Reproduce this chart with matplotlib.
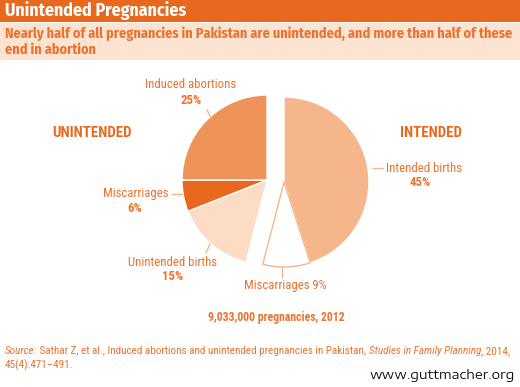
import matplotlib
matplotlib.use("Agg")
import matplotlib.pyplot as plt
from matplotlib.patches import Wedge, Rectangle

# data
groups = ["UNINTENDED", "INTENDED"]
slice_names = ["Intended births", "Miscarriages", "Unintended births", "Miscarriages", "Induced abortions"]
slice_values = [45, 9, 15, 6, 25]
slice_group = [1, 1, 0, 0, 0]
total_label = "9,033,000 pregnancies, 2012"

title = "Unintended Pregnancies"
subtitle = ["Nearly half of all pregnancies in Pakistan are unintended, and more than half of these",
            "end in abortion"]
source_parts = [("Source:", "italic"),
                (" Sathar Z, et al., Induced abortions and unintended pregnancies in Pakistan, ", "normal"),
                ("Studies in Family Planning", "italic"),
                (", 2014,", "normal")]
source_line2 = "45(4):471\u2013491."
site = "www.guttmacher.org"

ORANGE = "#E8691E"
TXT = "#EA7330"
colors = ["#F4B68A", "#FFFFFF", "#FCDCC4", "#E8691E", "#EF9458"]
edges = ["white", "#F4B68A", "white", "white", "white"]

HEAD = ["Fira Sans Condensed", "DejaVu Sans"]
COND = ["Roboto Condensed", "DejaVu Sans"]
WIDE = ["Encode Sans Expanded", "DejaVu Sans"]

fig = plt.figure(figsize=(5.2, 3.87), dpi=100)
ax = fig.add_axes([0, 0, 1, 1])
ax.set_xlim(0, 520)
ax.set_ylim(387, 0)
ax.set_aspect("equal")
ax.axis("off")
fig.canvas.draw()
rend = fig.canvas.get_renderer()


def width_px(t):
    return t.get_window_extent(renderer=rend).width


def fit(t, target):
    # scale font size so the text spans the target width (pixels)
    t.set_fontsize(t.get_fontsize() * target / width_px(t))
    return t


# header
ax.add_patch(Rectangle((0, 0), 520, 21.5, color=ORANGE, lw=0))
ax.add_patch(Rectangle((0, 22.5), 520, 37, color="#FDE3D2", lw=0))
fit(ax.text(5, 11, title, color="white", fontsize=12, fontweight="bold",
            family=HEAD, va="center", ha="left"), 182)
s1 = fit(ax.text(5, 33.5, subtitle[0], color=TXT, fontsize=10, fontweight="bold",
                 family=HEAD, va="center", ha="left"), 508)
ax.text(5, 49.5, subtitle[1], color=TXT, fontsize=s1.get_fontsize(), fontweight="bold",
        family=HEAD, va="center", ha="left")

# pie, split into two groups
centers = {0: (267, 180), 1: (284, 182)}
radius = 85
start = 0.0
total = sum(slice_values)
for v, c, e, g in zip(slice_values, colors, edges, slice_group):
    span = 360.0 * v / total
    # clockwise from 12 o'clock on an inverted y axis
    ax.add_patch(Wedge(centers[g], radius, -90 + start, -90 + start + span,
                       facecolor=c, edgecolor=e, lw=1.0))
    start += span

# group labels
fit(ax.text(92, 133, groups[0], color=ORANGE, fontsize=10.5, fontweight="bold",
            family=COND, ha="center", va="center"), 80)
fit(ax.text(431, 133, groups[1], color=ORANGE, fontsize=10.5, fontweight="bold",
            family=COND, ha="center", va="center"), 62)

probe = fit(ax.text(191, 85, slice_names[4], color=TXT, fontsize=9, family=COND,
                    ha="center", va="center"), 91)
fs = probe.get_fontsize()
lab_kw = dict(color=TXT, fontsize=fs, family=COND)
pct = [f"{v}%" for v in slice_values]
LINE = "#F4B68A"

# Induced abortions
ax.text(191, 100, pct[4], ha="center", va="center", fontweight="bold", **lab_kw)
ax.plot([207, 211], [110, 118], color=LINE, lw=1)
# Intended births
ax.text(386, 168, slice_names[0], ha="left", va="center", **lab_kw)
ax.text(420, 183, pct[0], ha="center", va="center", fontweight="bold", **lab_kw)
ax.plot([373, 383], [168, 168], color=LINE, lw=1)
# Miscarriages 9%
ax.text(285.5, 285, f"{slice_names[1]} {pct[1]}", ha="center", va="center", **lab_kw)
ax.plot([282, 282], [267, 277], color=LINE, lw=1)
# Unintended births
ax.text(173, 263, slice_names[2], ha="center", va="center", **lab_kw)
ax.text(173, 277, pct[2], ha="center", va="center", fontweight="bold", **lab_kw)
ax.plot([210, 206], [244, 253], color=LINE, lw=1)
# Miscarriages 6%
ax.text(168, 194, slice_names[3], ha="right", va="center", **lab_kw)
ax.text(135, 209, pct[3], ha="center", va="center", fontweight="bold", **lab_kw)
ax.plot([172, 182], [194, 194], color=LINE, lw=1)

fit(ax.text(276, 318, total_label, color=TXT, fontsize=9, fontweight="bold",
            family=COND, ha="center", va="center"), 138)

# source, pieced together from italic and upright runs
src_kw = dict(color=TXT, fontsize=8, family=COND, va="center")
y1 = 351
runs = []
x = 5
for s, st in source_parts:
    tt = ax.text(x, y1, s, style=st, **src_kw)
    runs.append(tt)
    x += width_px(tt)
scale = 508 / (x - 5)
x = 5
for tt in runs:
    tt.set_fontsize(tt.get_fontsize() * scale)
    tt.set_x(x)
    x += width_px(tt)
ax.text(5, 365, source_line2, **{**src_kw, "fontsize": runs[0].get_fontsize()})

fit(ax.text(515, 375, site, color="#111111", fontsize=9, fontweight="normal",
            family=WIDE, ha="right", va="center"), 146)

fig.savefig("out.png", dpi=100)
